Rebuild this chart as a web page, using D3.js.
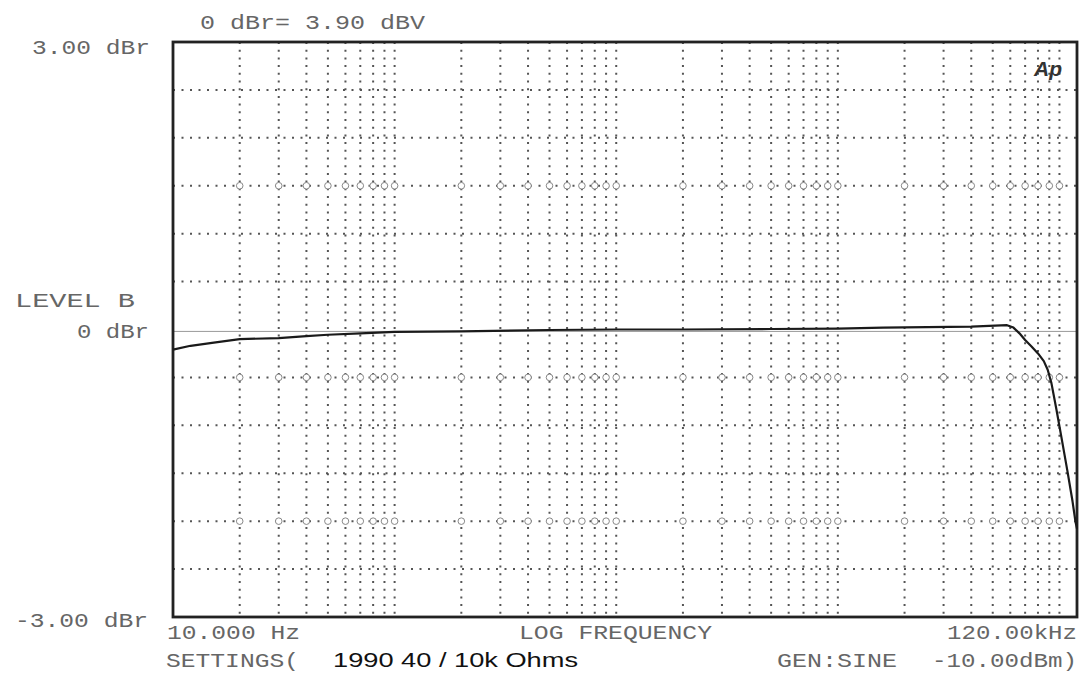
<!DOCTYPE html>
<html>
<head>
<meta charset="utf-8">
<script src="https://cdn.jsdelivr.net/npm/d3@7/dist/d3.min.js"></script>
<style>
  html, body { margin: 0; padding: 0; background: #fff; }
  svg { display: block; }
</style>
</head>
<body>
<div id="chart"></div>
<script>
// ---------------- data ----------------
const freqs = [10, 12, 15, 20, 30, 40, 50, 70, 100, 200, 500, 1000, 2000, 5000, 10000, 16000, 40000, 58000,
               62000, 66000, 70000, 75000, 80000, 85000, 88500, 92000, 97000, 102000, 108500, 114500, 118000, 120000];
const levels = [-0.21, -0.17, -0.14, -0.10, -0.09, -0.07, -0.055, -0.04, -0.025, -0.02, -0.005, 0.0, 0.0, 0.005, 0.01, 0.02, 0.03, 0.045,
                0.02, -0.04, -0.11, -0.18, -0.25, -0.33, -0.42, -0.56, -0.84, -1.12, -1.47, -1.79, -2.0, -2.08];

const gridDecades = [10, 100, 1000, 10000];
const gridMultipliers = [2, 3, 4, 5, 6, 7, 8, 9, 10];
const gridLevels = [-2.5, -2, -1.5, -1, -0.5, 0.5, 1, 1.5, 2, 2.5];
const moireLevels = [1.5, -0.5, -2.0];

const topLabel = "0 dBr= 3.90 dBV";
const yTopLabel = "3.00 dBr";
const yMidLabel1 = "LEVEL  B";
const yMidLabel2 = "0 dBr";
const yBotLabel = "-3.00 dBr";
const xMinLabel = "10.000 Hz";
const xTitle = "LOG FREQUENCY";
const xMaxLabel = "120.00kHz";
const settingsLabel = "SETTINGS(";
const settingsValue = "1990 40 / 10k Ohms";
const genLabel = "GEN:SINE";
const genLevel = "-10.00dBm)";
const logo = "Ap";

// ---------------- chart ----------------
const W = 1085, H = 674;
const svg = d3.select("#chart").append("svg").attr("width", W).attr("height", H);

const x = d3.scaleLog().domain([10, 120000]).range([173, 1077]);
const y = d3.scaleLinear().domain([-3, 3]).range([617, 42]);

const gridFreqs = [];
gridDecades.forEach(d => gridMultipliers.forEach(m => gridFreqs.push(d * m)));

const grid = svg.append("g");
// vertical dotted grid
grid.selectAll("line.v").data(gridFreqs).enter().append("line")
  .attr("x1", d => x(d)).attr("x2", d => x(d))
  .attr("y1", y(3)).attr("y2", y(-3))
  .attr("stroke", "#555").attr("stroke-width", 2)
  .attr("stroke-dasharray", "2,5.7");
// horizontal dotted grid
grid.selectAll("line.h").data(gridLevels).enter().append("line")
  .attr("x1", x(10)).attr("x2", x(120000))
  .attr("y1", d => y(d)).attr("y2", d => y(d))
  .attr("stroke", "#555").attr("stroke-width", 2)
  .attr("stroke-dasharray", "2,6.5");
// scan moire rings at some intersections
const rings = [];
moireLevels.forEach(l => gridFreqs.forEach(f => rings.push([f, l])));
grid.selectAll("circle").data(rings).enter().append("circle")
  .attr("cx", d => x(d[0])).attr("cy", d => y(d[1])).attr("r", 3.3)
  .attr("fill", "#fff").attr("stroke", "#888").attr("stroke-width", 1);
// 0 dBr reference line
grid.append("line")
  .attr("x1", x(10)).attr("x2", x(120000))
  .attr("y1", y(-0.02)).attr("y2", y(-0.02))
  .attr("stroke", "#999").attr("stroke-width", 1);

// frame
svg.append("rect")
  .attr("x", x(10)).attr("y", y(3))
  .attr("width", x(120000) - x(10)).attr("height", y(-3) - y(3))
  .attr("fill", "none").attr("stroke", "#222").attr("stroke-width", 2.8);

// curve
const line = d3.line().x((d, i) => x(freqs[i])).y(d => y(d)).curve(d3.curveLinear);
svg.append("path").datum(levels)
  .attr("d", line)
  .attr("fill", "none").attr("stroke", "#1a1a1a").attr("stroke-width", 2.2)
  .attr("stroke-linejoin", "round");

// texts
const mono = "'Liberation Mono', 'DejaVu Sans Mono', monospace";
function mtext(str, xx, yy, len, anchor) {
  const t = svg.append("text").text(str)
    .attr("x", xx).attr("y", yy)
    .attr("font-family", mono).attr("font-size", 20)
    .attr("fill", "#666")
    .attr("text-anchor", anchor || "start");
  if (len) t.attr("textLength", len).attr("lengthAdjust", "spacingAndGlyphs");
  return t;
}
mtext(topLabel, 200, 29, 225);
mtext(yTopLabel, 32, 54, 118);
mtext(yMidLabel1, 15, 307, 120);
mtext(yMidLabel2, 77, 338, 72);
mtext(yBotLabel, 15, 627, 133);
mtext(xMinLabel, 167, 639, 133);
mtext(xTitle, 519, 639, 193);
mtext(xMaxLabel, 947, 639, 130);
mtext(settingsLabel, 166, 667, 133);
mtext(genLabel, 777, 667, 120);
mtext(genLevel, 932, 667, 145);

svg.append("text").text(settingsValue)
  .attr("x", 333).attr("y", 667)
  .attr("font-family", "'Liberation Sans', Arial, sans-serif")
  .attr("font-size", 21).attr("fill", "#111")
  .attr("textLength", 245).attr("lengthAdjust", "spacingAndGlyphs");

svg.append("text").text(logo)
  .attr("x", 1034).attr("y", 76)
  .attr("font-family", "'Liberation Sans', Arial, sans-serif")
  .attr("font-size", 21).attr("font-style", "italic").attr("font-weight", "bold")
  .attr("fill", "#333");
</script>
</body>
</html>
